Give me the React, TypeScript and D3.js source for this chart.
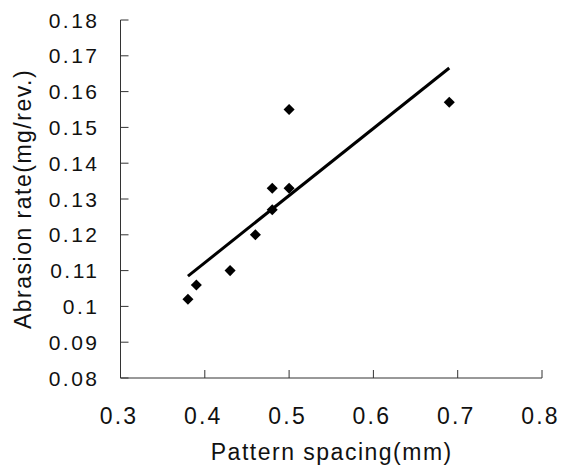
import React from "react";
import * as d3 from "d3";

const xValues = [0.38, 0.39, 0.43, 0.46, 0.48, 0.48, 0.5, 0.5, 0.69];
const yValues = [0.102, 0.106, 0.11, 0.12, 0.127, 0.133, 0.133, 0.155, 0.157];
const xTicks = [0.3, 0.4, 0.5, 0.6, 0.7, 0.8];
const xTickLabels = ["0.3", "0.4", "0.5", "0.6", "0.7", "0.8"];
const yTicks = [0.08, 0.09, 0.1, 0.11, 0.12, 0.13, 0.14, 0.15, 0.16, 0.17, 0.18];
const yTickLabels = ["0.08", "0.09", "0.1", "0.11", "0.12", "0.13", "0.14", "0.15", "0.16", "0.17", "0.18"];
const xTitle = "Pattern spacing(mm)";
const yTitle = "Abrasion rate(mg/rev.)";

const W = 561;
const H = 466;
const left = 120.5;
const right = 542;
const top = 20;
const bottom = 378;

export default function App() {
  const x = d3.scaleLinear().domain([0.3, 0.8]).range([left, right]);
  const y = d3.scaleLinear().domain([0.08, 0.18]).range([bottom, top]);

  const mx = d3.mean(xValues) as number;
  const my = d3.mean(yValues) as number;
  let sxy = 0;
  let sxx = 0;
  xValues.forEach((xv, i) => {
    sxy += (xv - mx) * (yValues[i] - my);
    sxx += (xv - mx) * (xv - mx);
  });
  const slope = sxy / sxx;
  const icpt = my - slope * mx;
  const x0 = d3.min(xValues) as number;
  const x1 = d3.max(xValues) as number;
  const fit: [number, number][] = [
    [x0, icpt + slope * x0],
    [x1, icpt + slope * x1],
  ];
  const lineGen = d3
    .line<[number, number]>()
    .x((d) => x(d[0]))
    .y((d) => y(d[1]));

  const diamond = d3.symbol().type(d3.symbolDiamond2).size(78)() as string;

  const font = "'Liberation Sans', Arial, sans-serif";
  const axisColor = "#333";

  return (
    <svg
      width={W}
      height={H}
      style={{ position: "absolute", left: 0, top: 0, background: "#fff" }}
      fontFamily={font}
    >
      <rect x={0} y={0} width={W} height={H} fill="#fff" />
      <line x1={left} y1={top} x2={left} y2={bottom} stroke={axisColor} strokeWidth={1} />
      <line x1={left} y1={bottom} x2={right} y2={bottom} stroke={axisColor} strokeWidth={1} />
      {yTicks.map((t, i) => (
        <g key={"yt" + i}>
          <line x1={left} x2={left + 8} y1={y(t)} y2={y(t)} stroke={axisColor} strokeWidth={1} />
          <text
            x={97 + 2.5}
            y={y(t) + 7.5}
            textAnchor="end"
            fontSize={21}
            letterSpacing={2.5}
            fill="#111"
          >
            {yTickLabels[i]}
          </text>
        </g>
      ))}
      {xTicks.map((t, i) => (
        <g key={"xt" + i}>
          {i > 0 && (
            <line x1={x(t)} x2={x(t)} y1={bottom} y2={bottom - 8} stroke={axisColor} strokeWidth={1} />
          )}
          <text
            x={x(t) - 1.5}
            y={424}
            textAnchor="middle"
            fontSize={23}
            letterSpacing={2.2}
            fill="#111"
          >
            {xTickLabels[i]}
          </text>
        </g>
      ))}
      <text x={331 + 0.75} y={460} textAnchor="middle" fontSize={23} letterSpacing={1.5} fill="#111">
        {xTitle}
      </text>
      <text
        transform={`translate(31, ${199}) rotate(-90)`}
        textAnchor="middle"
        fontSize={23}
        letterSpacing={1.5}
        fill="#111"
      >
        {yTitle}
      </text>
      <path d={lineGen(fit) as string} fill="none" stroke="#000" strokeWidth={3} />
      {xValues.map((xv, i) => (
        <path key={"p" + i} d={diamond} transform={`translate(${x(xv)},${y(yValues[i])})`} fill="#000" />
      ))}
    </svg>
  );
}
